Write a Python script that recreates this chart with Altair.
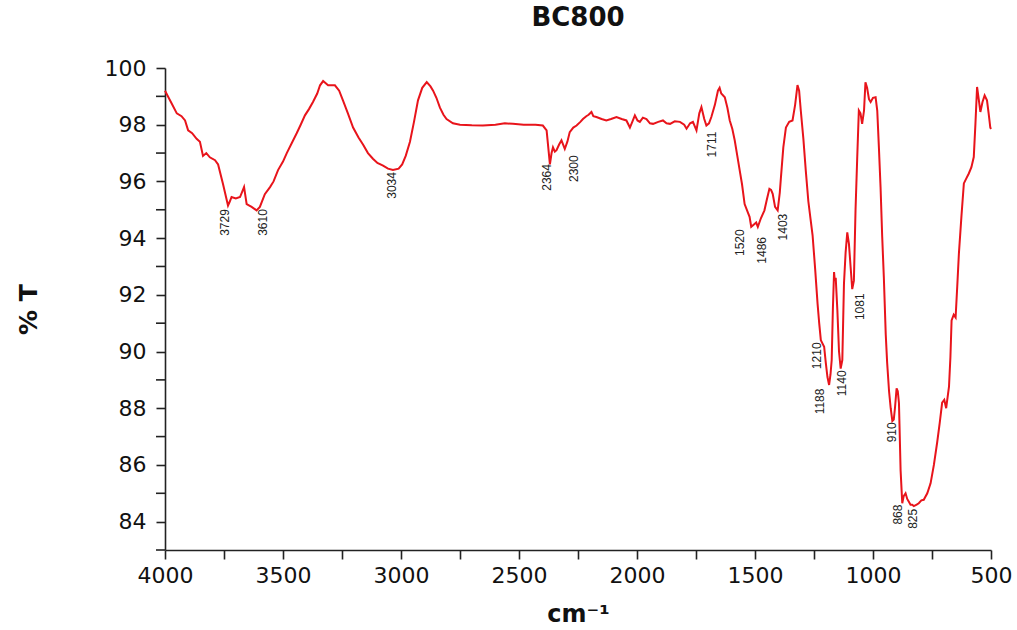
import altair as alt
import pandas as pd

# Spectrum (wavenumber cm-1, %T)
wavenumber = [4000, 3975, 3950, 3930, 3915, 3902, 3885, 3866, 3852, 3839, 3825, 3810, 3788, 3775,
              3754, 3733, 3725, 3718, 3700, 3682, 3665, 3654, 3633, 3612, 3598, 3577, 3555, 3540,
              3521, 3500, 3484, 3460, 3442, 3425, 3407, 3390, 3373, 3355, 3343, 3330, 3309, 3280,
              3262, 3246, 3225, 3203, 3180, 3161, 3140, 3119, 3100, 3076, 3055, 3034, 3010, 2995,
              2980, 2962, 2945, 2928, 2910, 2891, 2875, 2864, 2850, 2835, 2820, 2807, 2780, 2750,
              2700, 2653, 2600, 2560, 2526, 2480, 2430, 2399, 2383, 2369, 2362, 2356, 2348, 2341,
              2330, 2320, 2313, 2306, 2295, 2285, 2270, 2256, 2240, 2229, 2215, 2205, 2193, 2185,
              2172, 2150, 2130, 2110, 2087, 2065, 2045, 2030, 2020, 2009, 1998, 1988, 1975, 1960,
              1945, 1932, 1910, 1890, 1875, 1860, 1840, 1818, 1800, 1790, 1775, 1763, 1748, 1736,
              1727, 1715, 1706, 1695, 1685, 1670, 1657, 1650, 1643, 1628, 1617, 1607, 1596, 1586,
              1575, 1565, 1555, 1544, 1530, 1523, 1516, 1502, 1495, 1488, 1475, 1460, 1450, 1439,
              1432, 1425, 1415, 1404, 1395, 1390, 1380, 1369, 1355, 1341, 1330, 1320, 1313, 1306,
              1295, 1285, 1274, 1265, 1256, 1245, 1235, 1228, 1221, 1207, 1200, 1193, 1186, 1180,
              1175, 1170, 1165, 1162, 1158, 1151, 1144, 1137, 1130, 1123, 1116, 1109, 1102, 1095,
              1088, 1081, 1074, 1067, 1060, 1053, 1046, 1038, 1032, 1025, 1017, 1010, 1000, 989,
              982, 975, 968, 961, 954, 946, 940, 932, 925, 918, 912, 907, 900, 895, 890, 883, 876,
              870, 862, 855, 848, 841, 834, 827, 815, 806, 795, 785, 770, 756, 742, 728, 717, 707,
              698, 690, 678, 672, 667, 658, 650, 643, 636, 625, 615, 605, 594, 583, 573, 566, 559,
              552, 545, 536, 527, 517, 510, 503, 500]
transmittance = [99.2, 98.8, 98.4, 98.3, 98.15, 97.8, 97.7, 97.5, 97.4, 96.9, 97.0, 96.85, 96.75, 96.6,
                 95.9, 95.15, 95.3, 95.45, 95.4, 95.45, 95.8, 95.2, 95.1, 94.98, 95.1, 95.55, 95.8, 96.0,
                 96.4, 96.7, 97.0, 97.4, 97.7, 98.0, 98.33, 98.55, 98.8, 99.1, 99.39, 99.54, 99.39, 99.39,
                 99.2, 98.86, 98.4, 97.9, 97.55, 97.3, 97.0, 96.8, 96.65, 96.56, 96.45, 96.4, 96.45, 96.6,
                 96.9, 97.4, 98.1, 98.86, 99.3, 99.5, 99.35, 99.2, 98.95, 98.6, 98.35, 98.2, 98.05, 98.0,
                 97.98, 97.97, 98.0, 98.05, 98.03, 98.0, 98.0, 97.97, 97.8, 96.6, 97.0, 97.2, 97.05, 97.1,
                 97.3, 97.45, 97.3, 97.15, 97.4, 97.74, 97.9, 97.97, 98.1, 98.2, 98.3, 98.35, 98.45, 98.3,
                 98.27, 98.2, 98.15, 98.2, 98.27, 98.2, 98.15, 97.9, 98.1, 98.33, 98.15, 98.1, 98.25, 98.2,
                 98.05, 98.03, 98.1, 98.15, 98.05, 98.03, 98.12, 98.1, 98.0, 97.86, 98.05, 98.1, 97.8, 98.4,
                 98.62, 98.2, 97.97, 98.05, 98.27, 98.7, 99.2, 99.3, 99.1, 98.97, 98.6, 98.15, 97.85, 97.45,
                 96.9, 96.4, 95.9, 95.2, 94.9, 94.75, 94.4, 94.5, 94.55, 94.4, 94.7, 94.98, 95.35, 95.74,
                 95.7, 95.56, 95.1, 94.98, 95.6, 96.15, 97.2, 97.9, 98.1, 98.15, 98.7, 99.4, 99.2, 98.5,
                 97.5, 96.4, 95.3, 94.7, 94.1, 92.9, 91.7, 91.0, 90.4, 90.17, 89.6, 89.1, 88.82, 89.2,
                 89.7, 91.5, 92.8, 92.5, 92.6, 91.46, 90.0, 89.4, 89.7, 92.4, 93.5, 94.2, 93.8, 93.0,
                 92.2, 92.5, 95.0, 96.8, 98.5, 98.4, 98.03, 98.5, 99.5, 99.3, 98.9, 98.8, 98.95, 98.97,
                 98.5, 97.2, 95.8, 94.05, 92.6, 90.6, 89.6, 88.6, 88.0, 87.55, 87.6, 88.0, 88.7, 88.6, 88.18, 85.8, 84.65,
                 84.9, 85.0, 84.8, 84.7, 84.6, 84.6, 84.55, 84.6, 84.65, 84.75, 84.77, 85.0, 85.35, 86.0, 86.8, 87.5, 88.2,
                 88.3, 88.0, 88.76, 89.8, 91.1, 91.3, 91.2, 92.3, 93.46, 94.8, 95.93, 96.1, 96.28, 96.5, 96.86, 98.03, 99.33,
                 98.9, 98.45, 98.8, 99.03, 98.86, 98.4, 97.9, 97.85]

# Peak labels and their (text-centre) positions
peak_labels = ["3729", "3610", "3034", "2364", "2300", "1711", "1520", "1486", "1403",
               "1210", "1188", "1140", "1081", "910", "868", "825"]
peak_label_x = [3746, 3585, 3039, 2381, 2267, 1684, 1564, 1472, 1380,
                1239, 1225, 1133, 1055, 918, 893, 831]
peak_label_y = [94.55, 94.55, 95.86, 96.14, 96.45, 97.3, 93.84, 93.57, 94.39,
                89.85, 88.24, 88.88, 91.58, 87.15, 84.25, 84.1]

x_ticks = list(range(500, 4001, 250))
y_major = list(range(84, 101, 2))
y_minor = list(range(83, 100, 2))

spec = pd.DataFrame({"wn": wavenumber, "T": transmittance})
peaks = pd.DataFrame({"label": peak_labels, "wn": peak_label_x, "T": peak_label_y})
minor = pd.DataFrame({"T": y_minor})

x_scale = alt.Scale(domain=[4000, 500], nice=False, zero=False)
y_scale = alt.Scale(domain=[83, 100], nice=False, zero=False)

W, H = 826, 482

line = alt.Chart(spec).mark_line(color="#e8141b", strokeWidth=2).encode(
    x=alt.X("wn:Q", scale=x_scale,
            axis=alt.Axis(values=x_ticks, title="cm⁻¹",
                          labelExpr="datum.value % 500 == 0 ? datum.label : ''",
                          format="d", labelPadding=6, labelOverlap=False, labelFlush=False,
                          titleX=W / 2, titleY=64, titleAlign="center",
                          titleBaseline="middle", titleFontSize=24)),
    y=alt.Y("T:Q", scale=y_scale,
            axis=alt.Axis(values=y_major, title="% T", format="d",
                          labelPadding=10, labelOverlap=False, labelFlush=False,
                          titleX=-137, titleY=H / 2, titleAlign="center",
                          titleBaseline="middle", titleAngle=270, titleFontSize=25)),
    order=alt.Order("wn:Q", sort="descending"),
)

minor_ticks = alt.Chart(minor).mark_rule(color="#222222", strokeWidth=1.6).encode(
    y=alt.Y("T:Q", scale=y_scale),
    x=alt.value(-9),
    x2=alt.value(0),
)

labels = alt.Chart(peaks).mark_text(
    angle=270, align="center", baseline="middle",
    font="Liberation Sans", fontSize=12, color="#222222",
).encode(
    x=alt.X("wn:Q", scale=x_scale),
    y=alt.Y("T:Q", scale=y_scale),
    text="label:N",
)

chart = alt.layer(line, minor_ticks, labels).properties(
    width=W, height=H,
    title=alt.TitleParams("BC800", fontSize=26, font="DejaVu Sans", fontWeight="bold",
                          color="#111111", offset=26, anchor="middle"),
    autosize=alt.AutoSizeParams(type="none"),
    padding={"left": 165, "top": 68, "right": 26, "bottom": 80},
).configure_view(stroke=None).configure_axis(
    grid=False, domainColor="#222222", domainWidth=1.6, tickColor="#222222",
    tickWidth=1.6, tickSize=9, labelFont="DejaVu Sans", labelFontSize=22,
    labelColor="#111111", titleFont="DejaVu Sans", titleFontWeight="bold",
    titleColor="#111111",
)

chart.save("out.html", embed_options={"renderer": "svg", "actions": False})
